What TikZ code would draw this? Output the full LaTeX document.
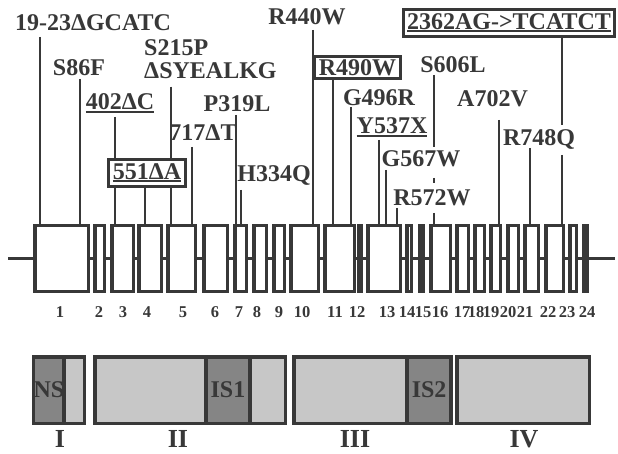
\documentclass[tikz,border=0pt]{standalone}
\usepackage{fontspec}
\setmainfont{Liberation Serif}
\definecolor{ink}{gray}{0.22}
\newcommand\ulx[1]{\sbox0{#1}\rlap{\rule[-3pt]{\wd0}{2pt}}\usebox0}
\tikzset{
  exon/.style={draw=ink, line width=3.5pt, minimum height=65.5pt, inner sep=0pt, fill=white},
  intron/.style={draw=ink, line width=3.5pt},
  mut/.style={draw=ink, line width=2.8pt},
  lab/.style={text=ink, font=\fontsize{24}{23}\selectfont\bfseries, inner sep=0pt, anchor=base},
  boxlab/.style={draw=ink, line width=3pt, fill=white, text=ink, font=\fontsize{24}{23}\selectfont\bfseries, inner sep=0pt},
  num/.style={text=ink, font=\fontsize{16.5}{16.5}\selectfont\bfseries, inner sep=0pt, anchor=base},
  roman/.style={text=ink, font=\fontsize{26}{26}\selectfont\bfseries, inner sep=0pt, anchor=base},
  dom/.style={draw=ink, line width=3.5pt, fill=black!22, minimum height=66.5pt, inner sep=0pt},
  subdom/.style={dom, fill=black!48, text=ink, font=\fontsize{24}{24}\selectfont\bfseries},
}
\begin{document}
\begin{tikzpicture}[x=1pt,y=-1pt]
\useasboundingbox[fill=white] (0,0) rectangle (618,454);
% exons
\foreach \i/\c/\w in {1/61.5/53.5, 2/99.5/9.5, 3/122.5/21.5, 4/150/22.5, 5/181.5/27.5,
  6/215.5/23.5, 7/240.5/11.5, 8/260/12.5, 9/279/10.5, 10/304.5/27.5, 11/339.5/29.5,
  12/360/2.5, 13/384/32.5, 14/409/4.5, 15/421.5/3.5, 16/440.5/19.5, 17/462.5/11.5,
  18/479.5/9.5, 19/495.5/9.5, 20/513/10.5, 21/531.5/13.5, 22/554.5/17.5, 23/573/6.5, 24/585.5/3.5}
  \node[exon, minimum width=\w pt] (e\i) at (\c,258.5) {};
\coordinate (lend) at (8,258.5);
\coordinate (rend) at (615,258.5);
\draw[intron] (lend) -- (e1.west);
\draw[intron] (e24.east) -- (rend);
\foreach \i in {1,...,23}{\pgfmathtruncatemacro\nxt{\i+1}\draw[intron] (e\i.east) -- (e\nxt.west);}
% exon numbers
\foreach \i/\c in {1/60, 2/99, 3/123, 4/147, 5/183, 6/215, 7/239, 8/257, 9/279, 10/302,
  11/335, 12/357, 13/387, 14/407, 15/423, 16/440, 17/462, 18/476, 19/491, 20/508,
  21/525, 22/548, 23/567, 24/587}
  \node[num] (n\i) at (\c,317) {\i};
% mutation labels
\node[lab] (m1) at (93,31) {19-23ΔGCATC};
\node[lab] (m2) at (79,76) {S86F};
\node[lab, anchor=north west, align=left] (m3) at (144,39) {S215P\\ΔSYEALKG};
\node[lab] (m4) at (120,110) {\ulx{402ΔC}};
\node[lab] (m6) at (203,141) {717ΔT};
\node[lab] (m7) at (237,112) {P319L};
\node[lab] (m8) at (274,182) {H334Q};
\node[lab] (m9) at (307,25) {R440W};
\node[lab] (m11) at (379,106) {G496R};
\node[lab] (m12) at (392,134) {\ulx{Y537X}};
\node[lab] (m13) at (453,73) {S606L};
\node[lab] (m14) at (421,167) {G567W};
\node[lab] (m15) at (432,206) {R572W};
\node[lab] (m16) at (492.5,107) {A702V};
\node[lab] (m17) at (539,146) {R748Q};
% mutation lines
\draw[mut] (m1.base -| 40,0) ++(0,6) -- (e1.north -| 40,0);
\draw[mut] (m2.base -| 80,0) ++(0,3) -- (e1.north -| 80,0);
\draw[mut] (m3.south -| 171,0) ++(0,8) -- (e5.north -| 171,0);
\draw[mut] (m4.base -| 115,0) ++(0,7) -- (e3.north -| 115,0);
\draw[mut] (m6.base -| 192,0) ++(0,6) -- (e5.north -| 192,0);
\draw[mut] (m7.base -| 236,0) ++(0,3) -- (e7.north -| 236,0);
\draw[mut] (m8.base -| 241,0) ++(0,8) -- (e7.north -| 241,0);
\draw[mut] (m9.base -| 313,0) ++(0,5) -- (e10.north -| 313,0);
\draw[mut] (m11.base -| 351,0) ++(0,1) -- (e11.north -| 351,0);
\draw[mut] (m12.base -| 379,0) ++(0,6) -- (e13.north -| 379,0);
\draw[mut, shorten >=3.5pt] (m13.base -| 434,0) ++(0,2) -- (m14.north -| 434,0);
\draw[mut, shorten >=7pt] (m14.base -| 434,0) ++(0,11) -- (m15.north -| 434,0);
\draw[mut] (m15.base -| 434,0) ++(0,7) -- (e16.north -| 434,0);
\draw[mut] (m14.base -| 386,0) ++(0,3) -- (e13.north -| 386,0);
\draw[mut] (m15.base -| 397,0) ++(0,2) -- (e13.north -| 397,0);
\draw[mut] (m16.base -| 499,0) ++(0,13) -- (e19.north -| 499,0);
\draw[mut] (m17.base -| 530,0) ++(0,2) -- (e21.north -| 530,0);
\draw[mut] (m17.base -| 562,0) ++(0,9) -- (e22.north -| 562,0);
% boxed labels
\node[boxlab, minimum width=77pt, minimum height=27pt] (m5) at (147,173) {\ulx{551ΔA}};
\node[boxlab, minimum width=86pt, minimum height=22pt] (m10) at (357.5,67.5) {R490W};
\node[boxlab, minimum width=211pt, minimum height=27pt] (m18) at (509,23) {\ulx{2362AG->TCATCT}};
\draw[mut] (m5.south -| 145,0) -- (e4.north -| 145,0);
\draw[mut] (m10.south -| 333,0) -- (e11.north -| 333,0);
\draw[mut, shorten >=4.5pt] (m18.south -| 562,0) -- (m17.north -| 562,0);
% protein domains
\node[dom, minimum width=49.5pt] (dI) at (59.5,390) {};
\node[subdom, minimum width=28.25pt] (ns) at (48.9,390) {NS};
\node[dom, minimum width=190.5pt] (dII) at (190,390) {};
\node[subdom, minimum width=44pt] (is1) at (228,390) {IS1};
\node[dom, minimum width=157.5pt] (dIII) at (372.5,390) {};
\node[subdom, minimum width=44.25pt] (is2) at (429.1,390) {IS2};
\node[dom, minimum width=132.5pt] (dIV) at (523,390) {};
\node[roman] (rI) at (60,447) {I};
\node[roman] (rII) at (178,447) {II};
\node[roman] (rIII) at (355,447) {III};
\node[roman] (rIV) at (524,447) {IV};
\end{tikzpicture}
\end{document}
